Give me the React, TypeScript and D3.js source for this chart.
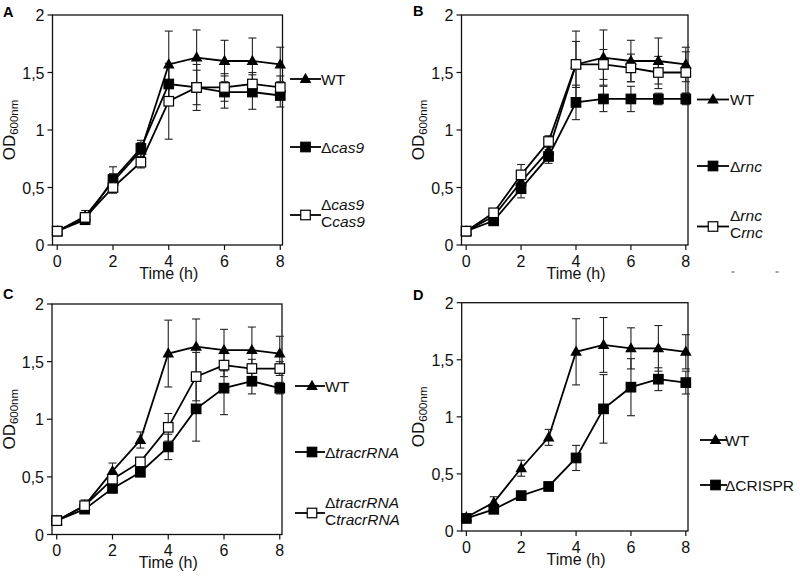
import React, { useEffect, useRef } from "react";
import * as d3 from "d3";

const hours = [0, 1, 2, 3, 4, 5, 6, 7, 8];
const xTicks = [0, 2, 4, 6, 8];
const yTicks = [0, 0.5, 1, 1.5, 2];
const yTickLabels = ["0", "0,5", "1", "1,5", "2"];

const wtOD = [0.12, 0.25, 0.55, 0.82, 1.57, 1.63, 1.6, 1.6, 1.57];
const wtErr = [0.01, 0.05, 0.07, 0.07, 0.29, 0.24, 0.18, 0.2, 0.15];

const cas9OD = [0.12, 0.22, 0.57, 0.84, 1.4, 1.37, 1.33, 1.33, 1.3];
const cas9Err = [0.01, 0.04, 0.11, 0.07, 0.15, 0.2, 0.14, 0.15, 0.1];
const cas9CompOD = [0.12, 0.24, 0.5, 0.72, 1.25, 1.37, 1.37, 1.4, 1.37];
const cas9CompErr = [0.01, 0.04, 0.05, 0.05, 0.33, 0.15, 0.12, 0.1, 0.1];

const rncOD = [0.12, 0.21, 0.49, 0.77, 1.24, 1.27, 1.27, 1.27, 1.27];
const rncErr = [0.01, 0.02, 0.08, 0.06, 0.15, 0.11, 0.11, 0.05, 0.05];
const rncCompOD = [0.12, 0.28, 0.61, 0.9, 1.57, 1.57, 1.54, 1.5, 1.5];
const rncCompErr = [0.01, 0.03, 0.09, 0.05, 0.2, 0.13, 0.12, 0.14, 0.18];

const tracrOD = [0.12, 0.22, 0.4, 0.54, 0.76, 1.09, 1.27, 1.33, 1.27];
const tracrErr = [0.01, 0.02, 0.03, 0.03, 0.11, 0.28, 0.23, 0.11, 0.05];
const tracrCompOD = [0.12, 0.25, 0.48, 0.63, 0.93, 1.37, 1.47, 1.44, 1.44];
const tracrCompErr = [0.01, 0.02, 0.03, 0.03, 0.12, 0.21, 0.1, 0.08, 0.06];

const crisprOD = [0.11, 0.19, 0.31, 0.39, 0.64, 1.07, 1.26, 1.33, 1.3];
const crisprErr = [0.01, 0.02, 0.02, 0.02, 0.11, 0.3, 0.25, 0.1, 0.1];

// legend label pieces: [text, italic]
type Piece = [string, boolean];
const lblWT: Piece[][] = [[["WT", false]]];
const lblCas9: Piece[][] = [[["Δ", false], ["cas9", true]]];
const lblCas9C: Piece[][] = [[["Δ", false], ["cas9", true]], [["C", false], ["cas9", true]]];
const lblRnc: Piece[][] = [[["Δ", false], ["rnc", true]]];
const lblRncC: Piece[][] = [[["Δ", false], ["rnc", true]], [["C", false], ["rnc", true]]];
const lblTracr: Piece[][] = [[["Δ", false], ["tracrRNA", true]]];
const lblTracrC: Piece[][] = [[["Δ", false], ["tracrRNA", true]], [["C", false], ["tracrRNA", true]]];
const lblCrispr: Piece[][] = [[["ΔCRISPR", false]]];

type Series = { v: number[]; e: number[]; marker: "tri" | "sq" | "wsq"; label: Piece[][]; ly: number };
type Panel = {
  letter: string; lx: number; ly: number;
  left: number; right: number; top: number; bottom: number;
  legX: number; legMarkX: number; legTextX: number; legEndX: number;
  series: Series[];
};

const panels: Panel[] = [
  {
    letter: "A", lx: 3, ly: 16.5, left: 52.5, right: 282.5, top: 15, bottom: 245,
    legX: 290, legMarkX: 305.5, legTextX: 321, legEndX: 321,
    series: [
      { v: wtOD, e: wtErr, marker: "tri", label: lblWT, ly: 79 },
      { v: cas9OD, e: cas9Err, marker: "sq", label: lblCas9, ly: 147 },
      { v: cas9CompOD, e: cas9CompErr, marker: "wsq", label: lblCas9C, ly: 215 },
    ],
  },
  {
    letter: "B", lx: 413, ly: 15.5, left: 461.5, right: 688, top: 15, bottom: 245,
    legX: 697, legMarkX: 713, legTextX: 730, legEndX: 729,
    series: [
      { v: wtOD, e: wtErr, marker: "tri", label: lblWT, ly: 99.5 },
      { v: rncOD, e: rncErr, marker: "sq", label: lblRnc, ly: 166 },
      { v: rncCompOD, e: rncCompErr, marker: "wsq", label: lblRncC, ly: 226.5 },
    ],
  },
  {
    letter: "C", lx: 3, ly: 298.5, left: 52, right: 282, top: 304, bottom: 534.5,
    legX: 295, legMarkX: 312, legTextX: 325, legEndX: 325,
    series: [
      { v: wtOD, e: wtErr, marker: "tri", label: lblWT, ly: 386 },
      { v: tracrOD, e: tracrErr, marker: "sq", label: lblTracr, ly: 452 },
      { v: tracrCompOD, e: tracrCompErr, marker: "wsq", label: lblTracrC, ly: 513 },
    ],
  },
  {
    letter: "D", lx: 413, ly: 300, left: 461.7, right: 688, top: 302.7, bottom: 531,
    legX: 700, legMarkX: 715.5, legTextX: 725, legEndX: 727,
    series: [
      { v: wtOD, e: wtErr, marker: "tri", label: lblWT, ly: 440 },
      { v: crisprOD, e: crisprErr, marker: "sq", label: lblCrispr, ly: 485 },
    ],
  },
];

const FONT = "'Liberation Sans', Arial, Helvetica, sans-serif";

function drawMarker(g: any, kind: string, x: number, y: number) {
  if (kind === "tri") {
    g.append("path")
      .attr("d", `M${x},${y - 6.2}L${x + 5.8},${y + 4}L${x - 5.8},${y + 4}Z`)
      .attr("fill", "#000");
  } else {
    const s = 9.5;
    g.append("rect")
      .attr("x", x - s / 2).attr("y", y - s / 2).attr("width", s).attr("height", s)
      .attr("fill", kind === "sq" ? "#000" : "#fff")
      .attr("stroke", "#000").attr("stroke-width", 1.2);
  }
}

export default function App() {
  const ref = useRef<SVGSVGElement | null>(null);

  useEffect(() => {
    const svg = d3.select(ref.current);
    svg.selectAll("*").remove();
    svg.append("rect").attr("width", 800).attr("height", 579).attr("fill", "#fff");

    panels.forEach((p) => {
      const x = d3.scaleLinear().domain([-0.17, 8.08]).range([p.left, p.right]);
      const y = d3.scaleLinear().domain([0, 2]).range([p.bottom, p.top]);
      const g = svg.append("g").attr("font-family", FONT);

      // frame
      g.append("rect")
        .attr("x", p.left).attr("y", p.top)
        .attr("width", p.right - p.left).attr("height", p.bottom - p.top)
        .attr("fill", "none").attr("stroke", "#111").attr("stroke-width", 1.3);

      // y ticks
      yTicks.forEach((t, i) => {
        g.append("line").attr("x1", p.left - 5).attr("x2", p.left)
          .attr("y1", y(t)).attr("y2", y(t)).attr("stroke", "#111").attr("stroke-width", 1.2);
        g.append("text").attr("x", p.left - 8).attr("y", y(t) + 6)
          .attr("text-anchor", "end").attr("font-size", 16).attr("fill", "#111")
          .text(yTickLabels[i]);
      });
      // x ticks
      xTicks.forEach((t) => {
        g.append("line").attr("x1", x(t)).attr("x2", x(t))
          .attr("y1", p.bottom).attr("y2", p.bottom + 5).attr("stroke", "#111").attr("stroke-width", 1.2);
        g.append("text").attr("x", x(t)).attr("y", p.bottom + 21.5)
          .attr("text-anchor", "middle").attr("font-size", 16).attr("fill", "#111")
          .text(String(t));
      });

      // axis titles
      g.append("text").attr("x", x(4)).attr("y", p.bottom + 33.5)
        .attr("text-anchor", "middle").attr("font-size", 16).attr("fill", "#111")
        .text("Time (h)");
      const yc = (p.top + p.bottom) / 2;
      const od = g.append("text")
        .attr("transform", `translate(${p.left - 37.5},${yc}) rotate(-90)`)
        .attr("text-anchor", "middle").attr("font-size", 17).attr("fill", "#111");
      od.append("tspan").text("OD");
      od.append("tspan").attr("font-size", 11.5).attr("dy", 3).text("600nm");

      // panel letter
      g.append("text").attr("x", p.lx).attr("y", p.ly)
        .attr("font-size", 14.5).attr("font-weight", "bold").attr("fill", "#000")
        .text(p.letter);

      // error bars
      p.series.forEach((s) => {
        hours.forEach((h, i) => {
          const cx = x(h);
          const y1 = y(s.v[i] + s.e[i]);
          const y2 = y(s.v[i] - s.e[i]);
          g.append("line").attr("x1", cx).attr("x2", cx).attr("y1", y1).attr("y2", y2)
            .attr("stroke", "#222").attr("stroke-width", 1.1);
          [y1, y2].forEach((yy) =>
            g.append("line").attr("x1", cx - 4).attr("x2", cx + 4).attr("y1", yy).attr("y2", yy)
              .attr("stroke", "#222").attr("stroke-width", 1.1)
          );
        });
      });

      // series lines + markers
      const line = d3.line<number>().x((_, i) => x(hours[i])).y((d) => y(d));
      p.series.forEach((s) => {
        g.append("path").attr("d", line(s.v) as string)
          .attr("fill", "none").attr("stroke", "#000").attr("stroke-width", 1.8);
        hours.forEach((h, i) => drawMarker(g, s.marker, x(h), y(s.v[i])));
      });

      // legend
      p.series.forEach((s) => {
        g.append("line").attr("x1", p.legX).attr("x2", p.legEndX)
          .attr("y1", s.ly).attr("y2", s.ly).attr("stroke", "#000").attr("stroke-width", 1.8);
        drawMarker(g, s.marker, p.legMarkX, s.ly);
        const n = s.label.length;
        s.label.forEach((lineP, li) => {
          const ty = n === 1 ? s.ly + 5.5 : s.ly - 11 + 5.5 + li * 17;
          const t = g.append("text").attr("x", p.legTextX).attr("y", ty)
            .attr("font-size", 15.5).attr("fill", "#111");
          lineP.forEach(([txt, it]) => {
            t.append("tspan").attr("font-style", it ? "italic" : "normal").text(txt);
          });
        });
      });
    });

    // small stray dashes below panel B
    [733, 777].forEach((cx) =>
      svg.append("line").attr("x1", cx - 1.5).attr("x2", cx + 1.5)
        .attr("y1", 272).attr("y2", 272).attr("stroke", "#444").attr("stroke-width", 1)
    );
  }, []);

  return (
    <svg
      ref={ref}
      width={800}
      height={579}
      style={{ position: "absolute", left: 0, top: 0, display: "block" }}
    />
  );
}
